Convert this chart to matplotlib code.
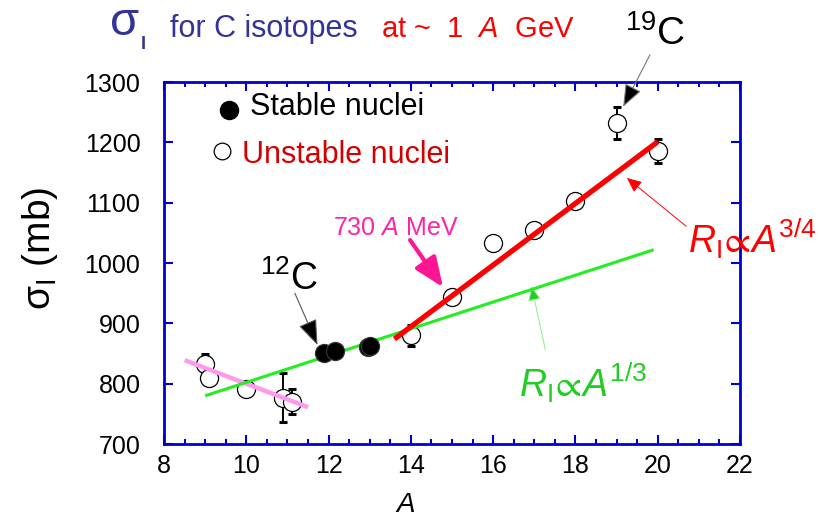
import matplotlib
matplotlib.use("Agg")
import matplotlib.pyplot as plt
from matplotlib.ticker import MultipleLocator

plt.rcParams["font.family"] = ["Liberation Sans", "DejaVu Sans"]
plt.rcParams["mathtext.fontset"] = "custom"
plt.rcParams["mathtext.rm"] = "Liberation Sans"
plt.rcParams["mathtext.it"] = "Liberation Sans:italic"
plt.rcParams["mathtext.bf"] = "Liberation Sans:bold"
plt.rcParams["mathtext.fallback"] = "stixsans"

# interaction cross sections of C isotopes
unstable_A = [9.0, 9.1, 10.0, 10.9, 11.1, 14.0, 15.0, 16.0, 17.0, 18.0, 19.0, 20.0]
unstable_sigma = [832, 809, 792, 777, 770, 880, 943, 1034, 1055, 1103, 1232, 1186]
unstable_err = [17, 0, 0, 40, 21, 18, 0, 0, 0, 12, 27, 20]

stable_A = [11.9, 12.15, 12.95, 13.0]
stable_sigma = [851, 855, 861, 862]

# guide lines
pink_A = [8.5, 11.5]
pink_sigma = [839, 761]
r13_A = [9.0, 19.9]
r13_sigma = [780, 1022]
r34_A = [13.6, 20.0]
r34_sigma = [874, 1201]

blue = "#0000cc"
title_blue = "#333399"

fig = plt.figure(figsize=(8.18, 5.23), dpi=100)
ax = fig.add_axes([0.2005, 0.151, 0.7042, 0.6922])

# error bars (only where visible)
eb_A = [a for a, e in zip(unstable_A, unstable_err) if e > 0]
eb_s = [s for s, e in zip(unstable_sigma, unstable_err) if e > 0]
eb_e = [e for e in unstable_err if e > 0]
ax.errorbar(eb_A, eb_s, yerr=eb_e, fmt="none", ecolor="black", elinewidth=1.4,
            capsize=3, capthick=2.2, zorder=2)

ax.plot(unstable_A, unstable_sigma, "o", ms=13, mfc="white", mec="black", mew=0.9, zorder=3)

ax.plot(pink_A, pink_sigma, color="#ff99ee", lw=3.2, solid_capstyle="butt", zorder=4)
ax.plot(r13_A, r13_sigma, color="#22ee22", lw=2.2, solid_capstyle="butt", zorder=4)
ax.plot(r34_A, r34_sigma, color="#ff0000", lw=3.8, solid_capstyle="butt", zorder=4)

ax.plot(stable_A, stable_sigma, "o", ms=13, mfc="black", mec="#333333", mew=0.9, zorder=5)

ax.set_xlim(8, 22)
ax.set_ylim(700, 1300)
ax.xaxis.set_major_locator(MultipleLocator(2))
ax.xaxis.set_minor_locator(MultipleLocator(0.5))
ax.yaxis.set_major_locator(MultipleLocator(100))
ax.tick_params(which="both", direction="in", top=True, right=True, color=blue,
               width=1.5, labelsize=18)
ax.tick_params(which="major", length=6.5)
ax.tick_params(which="minor", length=3.6)
ax.tick_params(axis="y", pad=17)
ax.tick_params(axis="x", pad=7)
for sp in ax.spines.values():
    sp.set_color(blue)
    sp.set_linewidth(2)

ax.set_xlabel("$A$", fontsize=20, va="center")
ax.xaxis.set_label_coords(0.418, -0.168)
ax.set_ylabel(r"$\mathrm{\sigma_I\ (mb)}$", fontsize=28, va="center")
ax.yaxis.set_label_coords(-0.215, 0.54)

# legend drawn by hand
ax.plot([0.113], [0.922], "o", ms=13, mfc="black", mec="black", transform=ax.transAxes, clip_on=False)
ax.text(0.149, 0.909, "Stable nuclei", transform=ax.transAxes, fontsize=22, va="baseline")
ax.plot([0.101], [0.809], "o", ms=12, mfc="white", mec="black", mew=0.9, transform=ax.transAxes, clip_on=False)
ax.text(0.135, 0.776, "Unstable nuclei", transform=ax.transAxes, fontsize=22, va="baseline",
        color="#d40000")

# annotations
ax.text(10.33, 955, "$^{12}$C", fontsize=27, va="baseline")
ax.annotate("", xy=(11.73, 864), xytext=(11.18, 950),
            arrowprops=dict(arrowstyle="-|>,head_length=1.6,head_width=0.6",
                            fc="black", ec="#555555", lw=0.8, mutation_scale=10,
                            shrinkA=0, shrinkB=0))

ax.text(19.2, 1361, "$^{19}$C", fontsize=28, va="baseline", clip_on=False)
ax.annotate("", xy=(19.16, 1259), xytext=(19.81, 1345),
            arrowprops=dict(arrowstyle="-|>,head_length=1.4,head_width=0.55",
                            fc="black", ec="#777777", lw=0.8, mutation_scale=10,
                            shrinkA=0, shrinkB=0), annotation_clip=False)

ax.text(15.15, 1046, "730 $A$ MeV", fontsize=18, va="baseline", ha="right", color="#ff22aa")
ax.annotate("", xy=(14.78, 960), xytext=(13.98, 1038),
            arrowprops=dict(arrowstyle="-|>,head_length=1.8,head_width=0.75",
                            fc="#ff1493", ec="#ff1493", lw=3, mutation_scale=10,
                            shrinkA=0, shrinkB=0))

ax.text(20.74, 1017, r"$R_\mathrm{I}\!\propto\!A^{3/4}$", fontsize=27, va="baseline",
        color="#ff0000", clip_on=False)
ax.annotate("", xy=(19.25, 1141), xytext=(20.69, 1061),
            arrowprops=dict(arrowstyle="-|>,head_length=0.9,head_width=0.4",
                            fc="#ff0000", ec="#ff0000", lw=0.7, mutation_scale=10,
                            shrinkA=0, shrinkB=0))

ax.text(16.63, 778, r"$R_\mathrm{I}\!\propto\!A^{1/3}$", fontsize=27, va="baseline",
        color="#22cc22")
ax.annotate("", xy=(16.93, 962), xytext=(17.27, 856),
            arrowprops=dict(arrowstyle="-|>,head_length=0.9,head_width=0.4",
                            fc="#22cc22", ec="#99ee99", lw=0.8, mutation_scale=10,
                            shrinkA=0, shrinkB=0))

# title line
fig.text(110 / 818, 1 - 35 / 523, "σ", fontsize=34, color=title_blue, va="baseline")
fig.text(141 / 818, 1 - 49 / 523, "I", fontsize=13, fontweight="bold", color=title_blue, va="baseline")
fig.text(170 / 818, 1 - 37 / 523, "for C isotopes", fontsize=22, color=title_blue, va="baseline")
fig.text(381 / 818, 1 - 37 / 523, "at ~  1  $A$  GeV", fontsize=21, color="#ff0000", va="baseline")

fig.savefig("out.png", dpi=100)
